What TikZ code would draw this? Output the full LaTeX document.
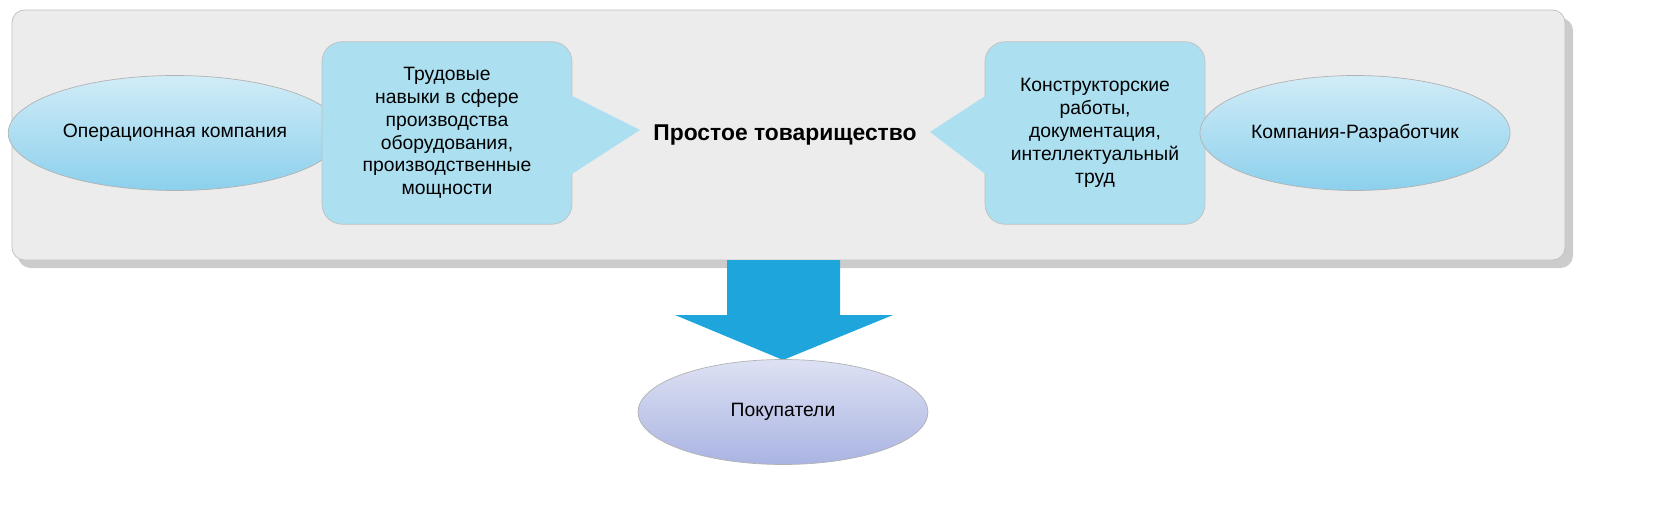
\documentclass[tikz,border=0pt]{standalone}
\usepackage{fontspec}
\setmainfont{Liberation Sans}
\usetikzlibrary{positioning}
\usetikzlibrary{calc}
\usetikzlibrary{shapes.geometric}
\definecolor{panelcolor}{RGB}{236, 236, 236}
\definecolor{ovalcolor}{RGB}{140, 208, 236}
\definecolor{boxcolor}{RGB}{172, 224, 240}
\definecolor{arrowcolor}{RGB}{30, 166, 220}
\definecolor{buyercolor}{RGB}{170, 180, 226}
\tikzset{
	oval/.style = {ellipse, draw=gray!60, thin, top color=ovalcolor!40!white,
		bottom color=ovalcolor, minimum width=5.7cm, minimum height=2.3cm,
		font=\fontsize{11}{13}\selectfont},
	card/.style = {rounded corners=0.4cm, draw=gray!50, fill=boxcolor,
		minimum width=5cm, minimum height=3.65cm, align=center,
		font=\fontsize{11}{13}\selectfont},
	pointer/.style = {fill=boxcolor, draw=none},
}
\begin{document}
\begin{tikzpicture}[x=0.02cm, y=-0.02cm]
	\useasboundingbox (0,0) rectangle (1671,517);
	
	%
	% Panel
	\fill[gray!40, rounded corners=0.25cm] (18,18) rectangle (1573,268);
	\draw[gray!50, fill=panelcolor, rounded corners=0.25cm] (12,10) rectangle (1565,260);
	
	%
	% Left side
	\node[oval] (operator) at (175,133) {Операционная компания};
	\node[card] (skills) at (447,133) {Трудовые\\навыки в сфере\\производства\\оборудования,\\производственные\\мощности};
	\fill[pointer] ($(skills.east)+(-2,-38)$) -- (640,130) -- ($(skills.east)+(-2,42)$) -- cycle;
	
	%
	% Center
	\node[font=\fontsize{13}{15}\selectfont\bfseries] (partnership) at (785,135) {Простое товарищество};
	
	%
	% Right side
	\node[card, minimum width=4.4cm] (design) at (1095,133) {Конструкторские\\работы,\\документация,\\интеллектуальный\\труд};
	\fill[pointer] ($(design.west)+(2,-38)$) -- (930,132) -- ($(design.west)+(2,42)$) -- cycle;
	\node[oval, minimum width=5.6cm] (developer) at (1355,133) {Компания-Разработчик};
	
	%
	% Down arrow
	\coordinate (tip) at (783,360);
	\fill[arrowcolor] (727,260) -- (840,260) -- (840,315) -- (893,315) -- (tip) -- (675,315) -- (727,315) -- cycle;
	\node[oval, top color=buyercolor!40!white, bottom color=buyercolor,
		minimum width=5.8cm, minimum height=2.1cm] (buyers) at (783,412) {Покупатели};
	
\end{tikzpicture}
\end{document}
